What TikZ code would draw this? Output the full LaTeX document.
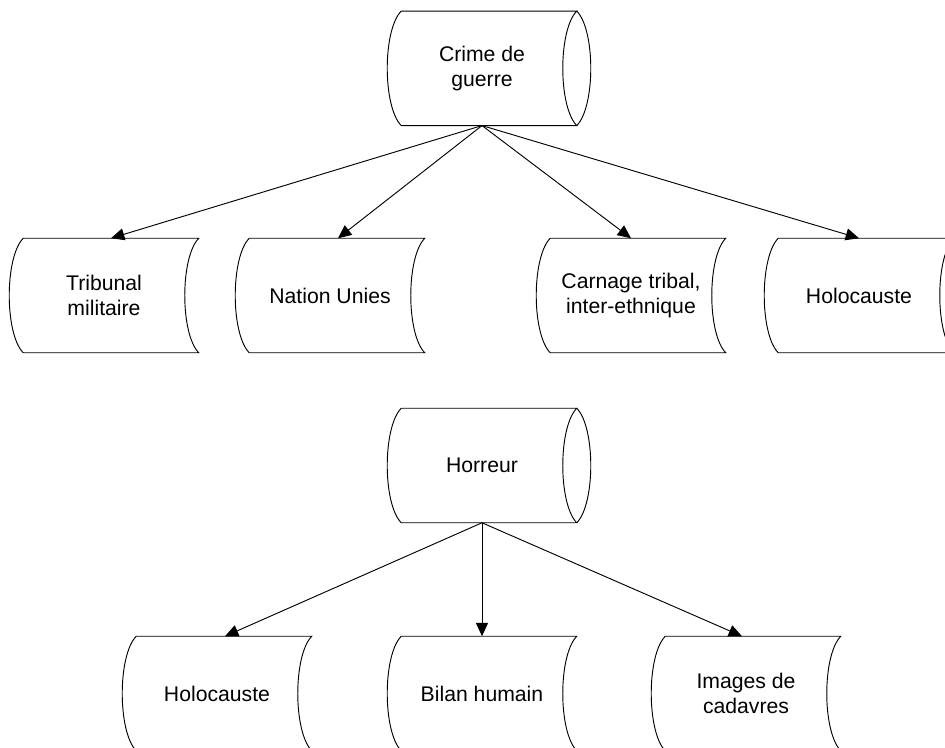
\documentclass[tikz,border=0pt]{standalone}
\usepackage{fontspec}
\setmainfont{Liberation Sans}
\usetikzlibrary{arrows.meta,calc}
\tikzset{
  sd/.style={draw=none, minimum width=141.75pt, minimum height=85.5pt, inner sep=0pt,
    align=center, font=\fontsize{15.9pt}{18.75pt}\selectfont},
  outline/.style={draw=black, line width=0.7pt},
  arr/.style={draw=black, line width=0.7pt, -{Triangle[length=10pt,width=9pt]}}
}
\newcommand\sdshape[1]{%
  \draw[outline] ([xshift=10.5pt]#1.north west)
    .. controls ([xshift=-3.5pt,yshift=-14.25pt]#1.north west) and ([xshift=-3.5pt,yshift=14.25pt]#1.south west) ..
    ([xshift=10.5pt]#1.south west) -- (#1.south east)
    .. controls ([xshift=-14pt,yshift=14.25pt]#1.south east) and ([xshift=-14pt,yshift=-14.25pt]#1.north east) ..
    (#1.north east) -- cycle;}
\newcommand\sdouter[1]{%
  \draw[outline] (#1.north east)
    .. controls ([xshift=14pt,yshift=-14.25pt]#1.north east) and ([xshift=14pt,yshift=14.25pt]#1.south east) ..
    (#1.south east);}
\begin{document}
\begin{tikzpicture}[x=0.75pt,y=-0.75pt]
\useasboundingbox (0,0) rectangle (945,747);
% top group
\node[sd] (crime) at (482,68.3) {Crime de\\guerre};
\node[sd] (tri) at (104,295.5) {Tribunal\\militaire};
\node[sd] (nat) at (330,295.5) {Nation Unies};
\node[sd] (car) at (631,295.5) {Carnage tribal,\\inter-ethnique};
\node[sd] (holA) at (859,295.5) {Holocauste};
% bottom group
\node[sd] (hor) at (482,465.5) {Horreur};
\node[sd] (holB) at (217,693.5) {Holocauste};
\node[sd] (bil) at (482,693.5) {Bilan humain};
\node[sd] (img) at (746,693.5) {Images de\\cadavres};
\foreach \n in {crime,tri,nat,car,holA,hor,holB,bil,img}{\sdshape{\n}}
\sdouter{crime}
\sdouter{hor}
% connectors
\draw[arr] (crime.south) -- ([xshift=5.25pt]tri.north);
\draw[arr] (crime.south) -- ([xshift=6pt]nat.north);
\draw[arr] (crime.south) -- (car.north);
\draw[arr] (crime.south) -- (holA.north);
\draw[arr] (hor.south) -- ([xshift=6pt]holB.north);
\draw[arr] (hor.south) -- (bil.north);
\draw[arr] (hor.south) -- ([xshift=-3pt]img.north);
\end{tikzpicture}
\end{document}
